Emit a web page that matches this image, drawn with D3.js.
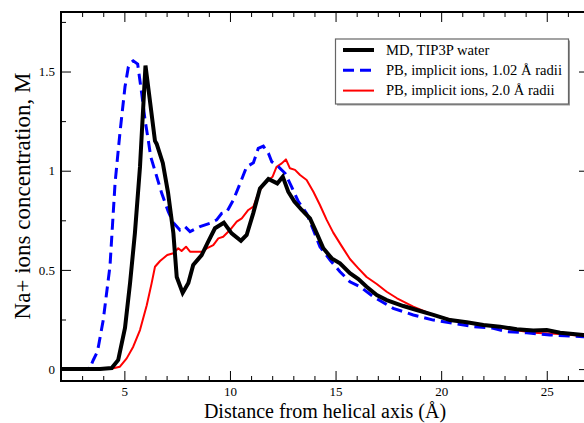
<!DOCTYPE html>
<html><head><meta charset="utf-8">
<script src="https://cdn.jsdelivr.net/npm/d3@7"></script>
<style>body{margin:0;background:#fff}svg{display:block}</style>
</head><body>
<script>
const xTicks = [5, 10, 15, 20, 25];
const yTicks = [0, 0.5, 1, 1.5];
const seriesNames = ["MD, TIP3P water", "PB, implicit ions, 1.02 Å radii", "PB, implicit ions, 2.0 Å radii"];

const mdX = [2,3.85,4.40,4.71,5.03,5.27,5.50,5.74,6.0,6.45,6.53,6.82,7.07,7.32,7.48,7.76,8.03,8.26,8.66,8.97,9.29,9.71,10.08,10.52,10.79,11.10,11.42,11.82,12.24,12.50,12.76,13.05,13.40,13.79,14.11,14.42,14.82,15.21,15.68,16.08,16.47,16.95,17.42,18.21,18.84,19.63,20.42,21.21,22.00,22.79,23.58,24.36,25.00,25.63,26.73,27.2];
const mdY = [0,0,0.005,0.046,0.207,0.434,0.686,1.019,1.53,1.15,1.135,1.039,0.888,0.686,0.464,0.384,0.434,0.525,0.575,0.642,0.710,0.738,0.684,0.647,0.676,0.785,0.911,0.958,0.936,0.970,0.894,0.844,0.802,0.760,0.684,0.609,0.558,0.533,0.483,0.454,0.415,0.373,0.348,0.318,0.298,0.273,0.247,0.236,0.222,0.214,0.201,0.194,0.197,0.183,0.172,0.167];

const pb1X = [2,3.14,3.37,3.53,3.69,3.77,4.0,4.32,4.56,4.79,5.03,5.19,5.27,5.42,5.63,5.82,5.98,6.13,6.25,6.45,6.77,7.08,7.32,7.63,7.87,8.11,8.58,9.06,9.37,9.61,9.85,10.16,10.48,10.79,11.11,11.34,11.58,11.82,11.98,12.29,12.61,12.92,13.24,13.63,13.95,14.26,14.74,15.21,15.68,16.16,16.79,17.73,18.68,19.63,20.57,21.52,22.47,23.10,24.05,25.15,26.73,27.2];
const pb1Y = [0,0,0.005,0.046,0.081,0.113,0.247,0.52,0.938,1.19,1.423,1.524,1.541,1.554,1.538,1.39,1.256,1.155,1.07,1.0,0.886,0.793,0.738,0.701,0.718,0.693,0.718,0.735,0.752,0.785,0.793,0.852,0.936,1.02,1.04,1.113,1.124,1.088,1.045,1.02,0.987,0.919,0.844,0.785,0.701,0.617,0.55,0.491,0.44,0.415,0.365,0.306,0.273,0.247,0.231,0.214,0.206,0.189,0.183,0.172,0.163,0.161];

const pb2X = [2,4.32,4.79,5.11,5.42,5.74,6.06,6.29,6.45,6.69,7.03,7.32,7.55,7.71,7.92,8.11,8.74,8.90,9.21,9.45,9.68,10.0,10.32,10.56,10.87,11.11,11.34,11.58,11.82,12.02,12.21,12.45,12.65,12.84,13.08,13.32,13.63,13.95,14.26,14.58,14.89,15.29,15.68,16.08,16.47,16.95,17.42,17.91,18.68,19.63,20.57,21.52,22.47,23.26,24.36,25.63,26.73,27.2];
const pb2Y = [0,0,0.012,0.054,0.113,0.197,0.322,0.432,0.516,0.545,0.575,0.584,0.609,0.595,0.617,0.592,0.592,0.609,0.625,0.659,0.667,0.701,0.743,0.760,0.802,0.819,0.886,0.928,0.953,0.970,1.02,1.037,1.057,1.012,1.004,0.978,0.953,0.894,0.827,0.752,0.688,0.62,0.555,0.508,0.464,0.429,0.39,0.357,0.315,0.273,0.247,0.231,0.217,0.201,0.183,0.177,0.167,0.163];

const FONT = "'Liberation Serif', 'Times New Roman', serif";
const W = 584, H = 423;
const L = 61, R = 589, T = 12, B = 381;
const svg = d3.select("body").append("svg").attr("width", W).attr("height", H)
  .style("font-family", FONT);

const x = d3.scaleLinear().domain([2, 27]).range([L, R]);
const y = d3.scaleLinear().domain([-0.06, 1.8]).range([B, T]);

svg.append("defs").append("clipPath").attr("id", "clip")
  .append("rect").attr("x", L).attr("y", T).attr("width", R - L).attr("height", B - T);

const xMinor = d3.range(3, 27, 1).filter(v => v % 5 !== 0);
const yMinor = [0.25, 0.75, 1.25, 1.75];
function addAxis(axisGen, transform) {
  const g = svg.append("g").attr("transform", transform).call(axisGen);
  g.attr("font-family", null).style("font-family", FONT);
  g.select(".domain").remove();
  g.selectAll("line").attr("stroke", "#000").attr("stroke-width", 1);
  return g;
}
// bottom ticks (inward)
addAxis(d3.axisTop(x).tickValues(xTicks).tickSize(10).tickFormat(""), `translate(0,${B})`);
addAxis(d3.axisTop(x).tickValues(xMinor).tickSize(5).tickFormat(""), `translate(0,${B})`);
// bottom labels
const gxl = addAxis(d3.axisBottom(x).tickValues(xTicks).tickSize(0).tickPadding(6).tickFormat(d3.format("d")), `translate(0,${B})`);
gxl.selectAll("text").attr("font-size", 13).attr("fill", "#000").style("font-family", FONT);
// top
addAxis(d3.axisBottom(x).tickValues(xTicks).tickSize(10).tickFormat(""), `translate(0,${T})`);
addAxis(d3.axisBottom(x).tickValues(xMinor).tickSize(5).tickFormat(""), `translate(0,${T})`);
// left
addAxis(d3.axisRight(y).tickValues(yTicks).tickSize(10).tickFormat(""), `translate(${L},0)`);
addAxis(d3.axisRight(y).tickValues(yMinor).tickSize(5).tickFormat(""), `translate(${L},0)`);
const gyl = addAxis(d3.axisLeft(y).tickValues(yTicks).tickSize(0).tickPadding(6).tickFormat(d => String(d)), `translate(${L},0)`);
gyl.selectAll("text").attr("font-size", 13).attr("fill", "#000").style("font-family", FONT);
// right
addAxis(d3.axisLeft(y).tickValues(yTicks).tickSize(10).tickFormat(""), `translate(${R},0)`);
addAxis(d3.axisLeft(y).tickValues(yMinor).tickSize(5).tickFormat(""), `translate(${R},0)`);

// frame
svg.append("rect").attr("x", L).attr("y", T).attr("width", R - L).attr("height", B - T)
  .attr("fill", "none").attr("stroke", "#000").attr("stroke-width", 2);

// lines
const line = d3.line().x(d => x(d[0])).y(d => y(d[1]));
const plot = svg.append("g").attr("clip-path", "url(#clip)");
const zip = (a, b) => a.map((v, i) => [v, b[i]]);
plot.append("path").datum(zip(pb2X, pb2Y)).attr("d", line)
  .attr("fill", "none").attr("stroke", "#ff0000").attr("stroke-width", 2).attr("stroke-linejoin", "round");
plot.append("path").datum(zip(pb1X, pb1Y)).attr("d", line)
  .attr("fill", "none").attr("stroke", "#0000ff").attr("stroke-width", 3).attr("stroke-dasharray", "11,6");
plot.append("path").datum(zip(mdX, mdY)).attr("d", line)
  .attr("fill", "none").attr("stroke", "#000").attr("stroke-width", 4).attr("stroke-linejoin", "miter");

// legend
const lg = svg.append("g");
lg.append("rect").attr("x", 337).attr("y", 40.5).attr("width", 233).attr("height", 65).attr("fill", "#999");
lg.append("rect").attr("x", 335.5).attr("y", 39).attr("width", 233).attr("height", 65)
  .attr("fill", "#fff").attr("stroke", "#666").attr("stroke-width", 1.2);
const styles = [
  {c: "#000", w: 4, d: null},
  {c: "#0000ff", w: 3, d: "11,6"},
  {c: "#ff0000", w: 2, d: null}
];
seriesNames.forEach((n, i) => {
  const yy = 50 + i * 20.3;
  lg.append("line").attr("x1", 343).attr("x2", 374).attr("y1", yy).attr("y2", yy)
    .attr("stroke", styles[i].c).attr("stroke-width", styles[i].w).attr("stroke-dasharray", styles[i].d);
  lg.append("text").attr("x", 386).attr("y", yy + 4.5).attr("font-size", 14.6).text(n);
});

// axis titles
svg.append("text").attr("x", (L + R) / 2).attr("y", 418).attr("text-anchor", "middle")
  .attr("font-size", 20).text("Distance from helical axis (Å)");
svg.append("text").attr("transform", "translate(30,196) rotate(-90)").attr("text-anchor", "middle")
  .attr("font-size", 23).text("Na+ ions concentration, M");
</script>
</body></html>
